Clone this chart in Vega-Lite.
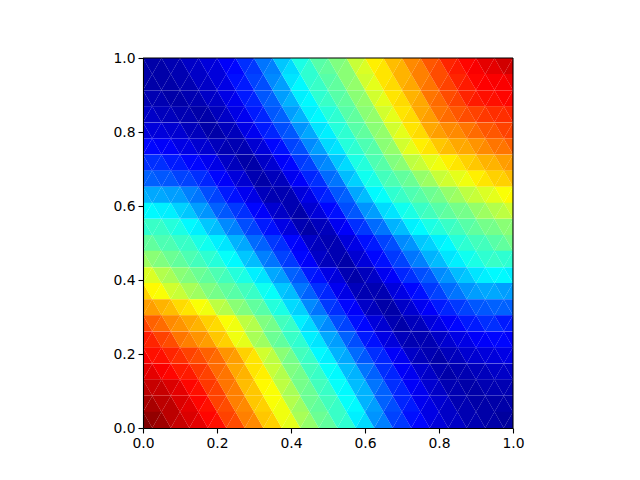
{"$schema":"https://vega.github.io/schema/vega-lite/v6.json","autosize":"none","width":370,"height":370,"padding":{"left":143,"top":58,"right":127,"bottom":52},"background":"white","config":{"view":{"stroke":null}},
"data":{"values":[
{"x":0,"y":0.978,"u":0.04,"d":0.04},{"x":0.05,"y":0.978,"u":0.04,"d":0.05},{"x":0.1,"y":0.978,"u":0.05,"d":0.07},{"x":0.15,"y":0.978,"u":0.07,"d":0.09},{"x":0.2,"y":0.978,"u":0.09,"d":0.12},{"x":0.25,"y":0.978,"u":0.13,"d":0.17},{"x":0.3,"y":0.978,"u":0.18,"d":0.24},{"x":0.35,"y":0.978,"u":0.25,"d":0.32},{"x":0.4,"y":0.978,"u":0.34,"d":0.4},{"x":0.45,"y":0.978,"u":0.42,"d":0.46},{"x":0.5,"y":0.978,"u":0.47,"d":0.5},{"x":0.55,"y":0.978,"u":0.51,"d":0.57},{"x":0.6,"y":0.978,"u":0.59,"d":0.64},{"x":0.65,"y":0.978,"u":0.65,"d":0.69},{"x":0.7,"y":0.978,"u":0.7,"d":0.74},{"x":0.75,"y":0.978,"u":0.75,"d":0.79},{"x":0.8,"y":0.978,"u":0.8,"d":0.84},{"x":0.85,"y":0.978,"u":0.85,"d":0.87},{"x":0.9,"y":0.978,"u":0.88,"d":0.9},{"x":0.95,"y":0.978,"u":0.9,"d":0.92},{"x":1,"y":0.978,"u":0.92,"d":0.92},
{"x":-0.025,"y":0.935,"u":0.04,"d":0.04},{"x":0.025,"y":0.935,"u":0.04,"d":0.04},{"x":0.075,"y":0.935,"u":0.04,"d":0.05},{"x":0.125,"y":0.935,"u":0.05,"d":0.07},{"x":0.175,"y":0.935,"u":0.07,"d":0.09},{"x":0.225,"y":0.935,"u":0.1,"d":0.14},{"x":0.275,"y":0.935,"u":0.15,"d":0.19},{"x":0.325,"y":0.935,"u":0.2,"d":0.26},{"x":0.375,"y":0.935,"u":0.28,"d":0.35},{"x":0.425,"y":0.935,"u":0.37,"d":0.42},{"x":0.475,"y":0.935,"u":0.43,"d":0.46},{"x":0.525,"y":0.935,"u":0.47,"d":0.51},{"x":0.575,"y":0.935,"u":0.52,"d":0.58},{"x":0.625,"y":0.935,"u":0.6,"d":0.65},{"x":0.675,"y":0.935,"u":0.66,"d":0.7},{"x":0.725,"y":0.935,"u":0.71,"d":0.75},{"x":0.775,"y":0.935,"u":0.76,"d":0.8},{"x":0.825,"y":0.935,"u":0.81,"d":0.84},{"x":0.875,"y":0.935,"u":0.85,"d":0.87},{"x":0.925,"y":0.935,"u":0.875,"d":0.88},{"x":0.975,"y":0.935,"u":0.88,"d":0.89},
{"x":0,"y":0.891,"u":0.05,"d":0.05},{"x":0.05,"y":0.891,"u":0.05,"d":0.04},{"x":0.1,"y":0.891,"u":0.04,"d":0.05},{"x":0.15,"y":0.891,"u":0.05,"d":0.07},{"x":0.2,"y":0.891,"u":0.07,"d":0.1},{"x":0.25,"y":0.891,"u":0.11,"d":0.15},{"x":0.3,"y":0.891,"u":0.16,"d":0.21},{"x":0.35,"y":0.891,"u":0.22,"d":0.28},{"x":0.4,"y":0.891,"u":0.3,"d":0.36},{"x":0.45,"y":0.891,"u":0.37,"d":0.42},{"x":0.5,"y":0.891,"u":0.43,"d":0.46},{"x":0.55,"y":0.891,"u":0.47,"d":0.51},{"x":0.6,"y":0.891,"u":0.52,"d":0.58},{"x":0.65,"y":0.891,"u":0.6,"d":0.65},{"x":0.7,"y":0.891,"u":0.66,"d":0.7},{"x":0.75,"y":0.891,"u":0.71,"d":0.76},{"x":0.8,"y":0.891,"u":0.77,"d":0.8},{"x":0.85,"y":0.891,"u":0.81,"d":0.84},{"x":0.9,"y":0.891,"u":0.85,"d":0.86},{"x":0.95,"y":0.891,"u":0.86,"d":0.87},{"x":1,"y":0.891,"u":0.87,"d":0.88},
{"x":-0.025,"y":0.848,"u":0.07,"d":0.07},{"x":0.025,"y":0.848,"u":0.07,"d":0.06},{"x":0.075,"y":0.848,"u":0.06,"d":0.05},{"x":0.125,"y":0.848,"u":0.05,"d":0.04},{"x":0.175,"y":0.848,"u":0.04,"d":0.06},{"x":0.225,"y":0.848,"u":0.07,"d":0.1},{"x":0.275,"y":0.848,"u":0.11,"d":0.15},{"x":0.325,"y":0.848,"u":0.16,"d":0.21},{"x":0.375,"y":0.848,"u":0.22,"d":0.28},{"x":0.425,"y":0.848,"u":0.3,"d":0.36},{"x":0.475,"y":0.848,"u":0.37,"d":0.41},{"x":0.525,"y":0.848,"u":0.42,"d":0.46},{"x":0.575,"y":0.848,"u":0.47,"d":0.51},{"x":0.625,"y":0.848,"u":0.52,"d":0.58},{"x":0.675,"y":0.848,"u":0.6,"d":0.65},{"x":0.725,"y":0.848,"u":0.66,"d":0.71},{"x":0.775,"y":0.848,"u":0.72,"d":0.76},{"x":0.825,"y":0.848,"u":0.77,"d":0.79},{"x":0.875,"y":0.848,"u":0.8,"d":0.81},{"x":0.925,"y":0.848,"u":0.82,"d":0.83},{"x":0.975,"y":0.848,"u":0.83,"d":0.84},
{"x":0,"y":0.804,"u":0.09,"d":0.09},{"x":0.05,"y":0.804,"u":0.09,"d":0.08},{"x":0.1,"y":0.804,"u":0.08,"d":0.06},{"x":0.15,"y":0.804,"u":0.06,"d":0.04},{"x":0.2,"y":0.804,"u":0.04,"d":0.06},{"x":0.25,"y":0.804,"u":0.06,"d":0.1},{"x":0.3,"y":0.804,"u":0.11,"d":0.15},{"x":0.35,"y":0.804,"u":0.16,"d":0.2},{"x":0.4,"y":0.804,"u":0.21,"d":0.27},{"x":0.45,"y":0.804,"u":0.29,"d":0.35},{"x":0.5,"y":0.804,"u":0.36,"d":0.41},{"x":0.55,"y":0.804,"u":0.42,"d":0.46},{"x":0.6,"y":0.804,"u":0.47,"d":0.51},{"x":0.65,"y":0.804,"u":0.52,"d":0.58},{"x":0.7,"y":0.804,"u":0.6,"d":0.65},{"x":0.75,"y":0.804,"u":0.66,"d":0.71},{"x":0.8,"y":0.804,"u":0.72,"d":0.74},{"x":0.85,"y":0.804,"u":0.74,"d":0.76},{"x":0.9,"y":0.804,"u":0.77,"d":0.79},{"x":0.95,"y":0.804,"u":0.79,"d":0.81},{"x":1,"y":0.804,"u":0.81,"d":0.82},
{"x":-0.025,"y":0.761,"u":0.13,"d":0.13},{"x":0.025,"y":0.761,"u":0.13,"d":0.12},{"x":0.075,"y":0.761,"u":0.12,"d":0.1},{"x":0.125,"y":0.761,"u":0.1,"d":0.08},{"x":0.175,"y":0.761,"u":0.08,"d":0.06},{"x":0.225,"y":0.761,"u":0.05,"d":0.05},{"x":0.275,"y":0.761,"u":0.05,"d":0.08},{"x":0.325,"y":0.761,"u":0.09,"d":0.13},{"x":0.375,"y":0.761,"u":0.14,"d":0.19},{"x":0.425,"y":0.761,"u":0.2,"d":0.26},{"x":0.475,"y":0.761,"u":0.28,"d":0.34},{"x":0.525,"y":0.761,"u":0.35,"d":0.41},{"x":0.575,"y":0.761,"u":0.42,"d":0.45},{"x":0.625,"y":0.761,"u":0.46,"d":0.51},{"x":0.675,"y":0.761,"u":0.52,"d":0.58},{"x":0.725,"y":0.761,"u":0.6,"d":0.64},{"x":0.775,"y":0.761,"u":0.65,"d":0.68},{"x":0.825,"y":0.761,"u":0.69,"d":0.71},{"x":0.875,"y":0.761,"u":0.71,"d":0.73},{"x":0.925,"y":0.761,"u":0.74,"d":0.76},{"x":0.975,"y":0.761,"u":0.76,"d":0.78},
{"x":0,"y":0.717,"u":0.17,"d":0.17},{"x":0.05,"y":0.717,"u":0.17,"d":0.15},{"x":0.1,"y":0.717,"u":0.15,"d":0.13},{"x":0.15,"y":0.717,"u":0.13,"d":0.11},{"x":0.2,"y":0.717,"u":0.1,"d":0.07},{"x":0.25,"y":0.717,"u":0.06,"d":0.04},{"x":0.3,"y":0.717,"u":0.04,"d":0.07},{"x":0.35,"y":0.717,"u":0.08,"d":0.12},{"x":0.4,"y":0.717,"u":0.13,"d":0.18},{"x":0.45,"y":0.717,"u":0.19,"d":0.25},{"x":0.5,"y":0.717,"u":0.26,"d":0.32},{"x":0.55,"y":0.717,"u":0.34,"d":0.4},{"x":0.6,"y":0.717,"u":0.41,"d":0.45},{"x":0.65,"y":0.717,"u":0.46,"d":0.5},{"x":0.7,"y":0.717,"u":0.51,"d":0.56},{"x":0.75,"y":0.717,"u":0.57,"d":0.6},{"x":0.8,"y":0.717,"u":0.61,"d":0.64},{"x":0.85,"y":0.717,"u":0.65,"d":0.67},{"x":0.9,"y":0.717,"u":0.68,"d":0.7},{"x":0.95,"y":0.717,"u":0.7,"d":0.72},{"x":1,"y":0.717,"u":0.725,"d":0.74},
{"x":-0.025,"y":0.674,"u":0.22,"d":0.22},{"x":0.025,"y":0.674,"u":0.22,"d":0.21},{"x":0.075,"y":0.674,"u":0.21,"d":0.19},{"x":0.125,"y":0.674,"u":0.19,"d":0.17},{"x":0.175,"y":0.674,"u":0.16,"d":0.13},{"x":0.225,"y":0.674,"u":0.12,"d":0.09},{"x":0.275,"y":0.674,"u":0.08,"d":0.05},{"x":0.325,"y":0.674,"u":0.04,"d":0.06},{"x":0.375,"y":0.674,"u":0.06,"d":0.11},{"x":0.425,"y":0.674,"u":0.12,"d":0.16},{"x":0.475,"y":0.674,"u":0.17,"d":0.23},{"x":0.525,"y":0.674,"u":0.24,"d":0.31},{"x":0.575,"y":0.674,"u":0.33,"d":0.39},{"x":0.625,"y":0.674,"u":0.4,"d":0.44},{"x":0.675,"y":0.674,"u":0.45,"d":0.47},{"x":0.725,"y":0.674,"u":0.48,"d":0.52},{"x":0.775,"y":0.674,"u":0.53,"d":0.57},{"x":0.825,"y":0.674,"u":0.58,"d":0.6},{"x":0.875,"y":0.674,"u":0.61,"d":0.64},{"x":0.925,"y":0.674,"u":0.65,"d":0.67},{"x":0.975,"y":0.674,"u":0.67,"d":0.69},
{"x":0,"y":0.63,"u":0.3,"d":0.29},{"x":0.05,"y":0.63,"u":0.29,"d":0.28},{"x":0.1,"y":0.63,"u":0.28,"d":0.25},{"x":0.15,"y":0.63,"u":0.24,"d":0.2},{"x":0.2,"y":0.63,"u":0.19,"d":0.15},{"x":0.25,"y":0.63,"u":0.14,"d":0.11},{"x":0.3,"y":0.63,"u":0.1,"d":0.06},{"x":0.35,"y":0.63,"u":0.05,"d":0.05},{"x":0.4,"y":0.63,"u":0.05,"d":0.09},{"x":0.45,"y":0.63,"u":0.1,"d":0.15},{"x":0.5,"y":0.63,"u":0.16,"d":0.21},{"x":0.55,"y":0.63,"u":0.22,"d":0.29},{"x":0.6,"y":0.63,"u":0.31,"d":0.37},{"x":0.65,"y":0.63,"u":0.38,"d":0.42},{"x":0.7,"y":0.63,"u":0.43,"d":0.45},{"x":0.75,"y":0.63,"u":0.46,"d":0.48},{"x":0.8,"y":0.63,"u":0.49,"d":0.52},{"x":0.85,"y":0.63,"u":0.53,"d":0.56},{"x":0.9,"y":0.63,"u":0.57,"d":0.59},{"x":0.95,"y":0.63,"u":0.6,"d":0.62},{"x":1,"y":0.63,"u":0.63,"d":0.64},
{"x":-0.025,"y":0.587,"u":0.37,"d":0.37},{"x":0.025,"y":0.587,"u":0.37,"d":0.36},{"x":0.075,"y":0.587,"u":0.36,"d":0.33},{"x":0.125,"y":0.587,"u":0.32,"d":0.28},{"x":0.175,"y":0.587,"u":0.27,"d":0.22},{"x":0.225,"y":0.587,"u":0.21,"d":0.18},{"x":0.275,"y":0.587,"u":0.17,"d":0.13},{"x":0.325,"y":0.587,"u":0.12,"d":0.08},{"x":0.375,"y":0.587,"u":0.07,"d":0.05},{"x":0.425,"y":0.587,"u":0.04,"d":0.08},{"x":0.475,"y":0.587,"u":0.09,"d":0.13},{"x":0.525,"y":0.587,"u":0.14,"d":0.2},{"x":0.575,"y":0.587,"u":0.21,"d":0.27},{"x":0.625,"y":0.587,"u":0.28,"d":0.34},{"x":0.675,"y":0.587,"u":0.35,"d":0.39},{"x":0.725,"y":0.587,"u":0.4,"d":0.43},{"x":0.775,"y":0.587,"u":0.44,"d":0.46},{"x":0.825,"y":0.587,"u":0.47,"d":0.49},{"x":0.875,"y":0.587,"u":0.49,"d":0.52},{"x":0.925,"y":0.587,"u":0.53,"d":0.55},{"x":0.975,"y":0.587,"u":0.56,"d":0.58},
{"x":0,"y":0.543,"u":0.42,"d":0.43},{"x":0.05,"y":0.543,"u":0.43,"d":0.41},{"x":0.1,"y":0.543,"u":0.4,"d":0.37},{"x":0.15,"y":0.543,"u":0.36,"d":0.32},{"x":0.2,"y":0.543,"u":0.31,"d":0.26},{"x":0.25,"y":0.543,"u":0.25,"d":0.2},{"x":0.3,"y":0.543,"u":0.19,"d":0.15},{"x":0.35,"y":0.543,"u":0.14,"d":0.1},{"x":0.4,"y":0.543,"u":0.09,"d":0.05},{"x":0.45,"y":0.543,"u":0.04,"d":0.06},{"x":0.5,"y":0.543,"u":0.06,"d":0.11},{"x":0.55,"y":0.543,"u":0.12,"d":0.17},{"x":0.6,"y":0.543,"u":0.18,"d":0.23},{"x":0.65,"y":0.543,"u":0.24,"d":0.3},{"x":0.7,"y":0.543,"u":0.31,"d":0.36},{"x":0.75,"y":0.543,"u":0.37,"d":0.4},{"x":0.8,"y":0.543,"u":0.41,"d":0.43},{"x":0.85,"y":0.543,"u":0.44,"d":0.46},{"x":0.9,"y":0.543,"u":0.47,"d":0.49},{"x":0.95,"y":0.543,"u":0.49,"d":0.51},{"x":1,"y":0.543,"u":0.51,"d":0.52},
{"x":-0.025,"y":0.5,"u":0.49,"d":0.47},{"x":0.025,"y":0.5,"u":0.47,"d":0.45},{"x":0.075,"y":0.5,"u":0.45,"d":0.43},{"x":0.125,"y":0.5,"u":0.43,"d":0.4},{"x":0.175,"y":0.5,"u":0.39,"d":0.36},{"x":0.225,"y":0.5,"u":0.35,"d":0.3},{"x":0.275,"y":0.5,"u":0.29,"d":0.23},{"x":0.325,"y":0.5,"u":0.22,"d":0.18},{"x":0.375,"y":0.5,"u":0.17,"d":0.13},{"x":0.425,"y":0.5,"u":0.12,"d":0.07},{"x":0.475,"y":0.5,"u":0.06,"d":0.05},{"x":0.525,"y":0.5,"u":0.05,"d":0.09},{"x":0.575,"y":0.5,"u":0.1,"d":0.14},{"x":0.625,"y":0.5,"u":0.15,"d":0.19},{"x":0.675,"y":0.5,"u":0.2,"d":0.26},{"x":0.725,"y":0.5,"u":0.27,"d":0.32},{"x":0.775,"y":0.5,"u":0.33,"d":0.36},{"x":0.825,"y":0.5,"u":0.37,"d":0.41},{"x":0.875,"y":0.5,"u":0.42,"d":0.44},{"x":0.925,"y":0.5,"u":0.44,"d":0.46},{"x":0.975,"y":0.5,"u":0.47,"d":0.49},
{"x":0,"y":0.457,"u":0.53,"d":0.51},{"x":0.05,"y":0.457,"u":0.5,"d":0.48},{"x":0.1,"y":0.457,"u":0.47,"d":0.45},{"x":0.15,"y":0.457,"u":0.44,"d":0.42},{"x":0.2,"y":0.457,"u":0.41,"d":0.38},{"x":0.25,"y":0.457,"u":0.37,"d":0.32},{"x":0.3,"y":0.457,"u":0.31,"d":0.25},{"x":0.35,"y":0.457,"u":0.24,"d":0.19},{"x":0.4,"y":0.457,"u":0.18,"d":0.13},{"x":0.45,"y":0.457,"u":0.12,"d":0.07},{"x":0.5,"y":0.457,"u":0.06,"d":0.05},{"x":0.55,"y":0.457,"u":0.04,"d":0.08},{"x":0.6,"y":0.457,"u":0.09,"d":0.13},{"x":0.65,"y":0.457,"u":0.14,"d":0.18},{"x":0.7,"y":0.457,"u":0.19,"d":0.24},{"x":0.75,"y":0.457,"u":0.25,"d":0.3},{"x":0.8,"y":0.457,"u":0.31,"d":0.35},{"x":0.85,"y":0.457,"u":0.36,"d":0.39},{"x":0.9,"y":0.457,"u":0.4,"d":0.42},{"x":0.95,"y":0.457,"u":0.43,"d":0.42},{"x":1,"y":0.457,"u":0.42,"d":0.42},
{"x":-0.025,"y":0.413,"u":0.6,"d":0.59},{"x":0.025,"y":0.413,"u":0.59,"d":0.55},{"x":0.075,"y":0.413,"u":0.54,"d":0.51},{"x":0.125,"y":0.413,"u":0.5,"d":0.48},{"x":0.175,"y":0.413,"u":0.47,"d":0.45},{"x":0.225,"y":0.413,"u":0.44,"d":0.41},{"x":0.275,"y":0.413,"u":0.4,"d":0.36},{"x":0.325,"y":0.413,"u":0.35,"d":0.29},{"x":0.375,"y":0.413,"u":0.28,"d":0.22},{"x":0.425,"y":0.413,"u":0.21,"d":0.15},{"x":0.475,"y":0.413,"u":0.14,"d":0.1},{"x":0.525,"y":0.413,"u":0.09,"d":0.05},{"x":0.575,"y":0.413,"u":0.04,"d":0.06},{"x":0.625,"y":0.413,"u":0.07,"d":0.11},{"x":0.675,"y":0.413,"u":0.12,"d":0.16},{"x":0.725,"y":0.413,"u":0.17,"d":0.2},{"x":0.775,"y":0.413,"u":0.21,"d":0.26},{"x":0.825,"y":0.413,"u":0.27,"d":0.31},{"x":0.875,"y":0.413,"u":0.32,"d":0.35},{"x":0.925,"y":0.413,"u":0.36,"d":0.37},{"x":0.975,"y":0.413,"u":0.37,"d":0.36},
{"x":0,"y":0.37,"u":0.67,"d":0.63},{"x":0.05,"y":0.37,"u":0.62,"d":0.58},{"x":0.1,"y":0.37,"u":0.57,"d":0.54},{"x":0.15,"y":0.37,"u":0.53,"d":0.5},{"x":0.2,"y":0.37,"u":0.49,"d":0.47},{"x":0.25,"y":0.37,"u":0.46,"d":0.44},{"x":0.3,"y":0.37,"u":0.43,"d":0.39},{"x":0.35,"y":0.37,"u":0.38,"d":0.32},{"x":0.4,"y":0.37,"u":0.31,"d":0.24},{"x":0.45,"y":0.37,"u":0.22,"d":0.17},{"x":0.5,"y":0.37,"u":0.16,"d":0.11},{"x":0.55,"y":0.37,"u":0.1,"d":0.06},{"x":0.6,"y":0.37,"u":0.05,"d":0.05},{"x":0.65,"y":0.37,"u":0.05,"d":0.09},{"x":0.7,"y":0.37,"u":0.1,"d":0.13},{"x":0.75,"y":0.37,"u":0.14,"d":0.18},{"x":0.8,"y":0.37,"u":0.19,"d":0.23},{"x":0.85,"y":0.37,"u":0.24,"d":0.27},{"x":0.9,"y":0.37,"u":0.28,"d":0.29},{"x":0.95,"y":0.37,"u":0.29,"d":0.28},{"x":1,"y":0.37,"u":0.28,"d":0.27},
{"x":-0.025,"y":0.326,"u":0.74,"d":0.72},{"x":0.025,"y":0.326,"u":0.72,"d":0.7},{"x":0.075,"y":0.326,"u":0.69,"d":0.66},{"x":0.125,"y":0.326,"u":0.65,"d":0.62},{"x":0.175,"y":0.326,"u":0.61,"d":0.56},{"x":0.225,"y":0.326,"u":0.55,"d":0.51},{"x":0.275,"y":0.326,"u":0.5,"d":0.47},{"x":0.325,"y":0.326,"u":0.46,"d":0.41},{"x":0.375,"y":0.326,"u":0.4,"d":0.34},{"x":0.425,"y":0.326,"u":0.33,"d":0.26},{"x":0.475,"y":0.326,"u":0.24,"d":0.18},{"x":0.525,"y":0.326,"u":0.17,"d":0.13},{"x":0.575,"y":0.326,"u":0.12,"d":0.07},{"x":0.625,"y":0.326,"u":0.06,"d":0.04},{"x":0.675,"y":0.326,"u":0.04,"d":0.07},{"x":0.725,"y":0.326,"u":0.08,"d":0.11},{"x":0.775,"y":0.326,"u":0.12,"d":0.15},{"x":0.825,"y":0.326,"u":0.16,"d":0.18},{"x":0.875,"y":0.326,"u":0.19,"d":0.21},{"x":0.925,"y":0.326,"u":0.21,"d":0.22},{"x":0.975,"y":0.326,"u":0.22,"d":0.22},
{"x":0,"y":0.283,"u":0.81,"d":0.78},{"x":0.05,"y":0.283,"u":0.77,"d":0.74},{"x":0.1,"y":0.283,"u":0.73,"d":0.71},{"x":0.15,"y":0.283,"u":0.7,"d":0.67},{"x":0.2,"y":0.283,"u":0.66,"d":0.62},{"x":0.25,"y":0.283,"u":0.61,"d":0.56},{"x":0.3,"y":0.283,"u":0.55,"d":0.5},{"x":0.35,"y":0.283,"u":0.49,"d":0.44},{"x":0.4,"y":0.283,"u":0.43,"d":0.36},{"x":0.45,"y":0.283,"u":0.34,"d":0.28},{"x":0.5,"y":0.283,"u":0.26,"d":0.2},{"x":0.55,"y":0.283,"u":0.19,"d":0.14},{"x":0.6,"y":0.283,"u":0.13,"d":0.09},{"x":0.65,"y":0.283,"u":0.08,"d":0.05},{"x":0.7,"y":0.283,"u":0.04,"d":0.06},{"x":0.75,"y":0.283,"u":0.06,"d":0.09},{"x":0.8,"y":0.283,"u":0.1,"d":0.12},{"x":0.85,"y":0.283,"u":0.13,"d":0.15},{"x":0.9,"y":0.283,"u":0.15,"d":0.17},{"x":0.95,"y":0.283,"u":0.17,"d":0.15},{"x":1,"y":0.283,"u":0.15,"d":0.14},
{"x":-0.025,"y":0.239,"u":0.87,"d":0.85},{"x":0.025,"y":0.239,"u":0.84,"d":0.81},{"x":0.075,"y":0.239,"u":0.8,"d":0.76},{"x":0.125,"y":0.239,"u":0.75,"d":0.73},{"x":0.175,"y":0.239,"u":0.72,"d":0.68},{"x":0.225,"y":0.239,"u":0.67,"d":0.61},{"x":0.275,"y":0.239,"u":0.6,"d":0.54},{"x":0.325,"y":0.239,"u":0.53,"d":0.48},{"x":0.375,"y":0.239,"u":0.47,"d":0.43},{"x":0.425,"y":0.239,"u":0.42,"d":0.36},{"x":0.475,"y":0.239,"u":0.35,"d":0.29},{"x":0.525,"y":0.239,"u":0.28,"d":0.22},{"x":0.575,"y":0.239,"u":0.2,"d":0.15},{"x":0.625,"y":0.239,"u":0.14,"d":0.1},{"x":0.675,"y":0.239,"u":0.09,"d":0.06},{"x":0.725,"y":0.239,"u":0.05,"d":0.05},{"x":0.775,"y":0.239,"u":0.05,"d":0.07},{"x":0.825,"y":0.239,"u":0.08,"d":0.1},{"x":0.875,"y":0.239,"u":0.1,"d":0.12},{"x":0.925,"y":0.239,"u":0.12,"d":0.13},{"x":0.975,"y":0.239,"u":0.13,"d":0.12},
{"x":0,"y":0.196,"u":0.88,"d":0.86},{"x":0.05,"y":0.196,"u":0.86,"d":0.84},{"x":0.1,"y":0.196,"u":0.83,"d":0.81},{"x":0.15,"y":0.196,"u":0.8,"d":0.78},{"x":0.2,"y":0.196,"u":0.77,"d":0.73},{"x":0.25,"y":0.196,"u":0.72,"d":0.67},{"x":0.3,"y":0.196,"u":0.65,"d":0.58},{"x":0.35,"y":0.196,"u":0.56,"d":0.51},{"x":0.4,"y":0.196,"u":0.49,"d":0.44},{"x":0.45,"y":0.196,"u":0.43,"d":0.37},{"x":0.5,"y":0.196,"u":0.36,"d":0.3},{"x":0.55,"y":0.196,"u":0.29,"d":0.23},{"x":0.6,"y":0.196,"u":0.21,"d":0.17},{"x":0.65,"y":0.196,"u":0.16,"d":0.12},{"x":0.7,"y":0.196,"u":0.11,"d":0.07},{"x":0.75,"y":0.196,"u":0.06,"d":0.05},{"x":0.8,"y":0.196,"u":0.04,"d":0.06},{"x":0.85,"y":0.196,"u":0.06,"d":0.08},{"x":0.9,"y":0.196,"u":0.08,"d":0.09},{"x":0.95,"y":0.196,"u":0.09,"d":0.1},{"x":1,"y":0.196,"u":0.1,"d":0.1},
{"x":-0.025,"y":0.152,"u":0.91,"d":0.9},{"x":0.025,"y":0.152,"u":0.9,"d":0.88},{"x":0.075,"y":0.152,"u":0.87,"d":0.85},{"x":0.125,"y":0.152,"u":0.85,"d":0.82},{"x":0.175,"y":0.152,"u":0.81,"d":0.77},{"x":0.225,"y":0.152,"u":0.76,"d":0.71},{"x":0.275,"y":0.152,"u":0.7,"d":0.65},{"x":0.325,"y":0.152,"u":0.64,"d":0.57},{"x":0.375,"y":0.152,"u":0.55,"d":0.5},{"x":0.425,"y":0.152,"u":0.49,"d":0.44},{"x":0.475,"y":0.152,"u":0.43,"d":0.38},{"x":0.525,"y":0.152,"u":0.37,"d":0.31},{"x":0.575,"y":0.152,"u":0.3,"d":0.24},{"x":0.625,"y":0.152,"u":0.22,"d":0.17},{"x":0.675,"y":0.152,"u":0.16,"d":0.12},{"x":0.725,"y":0.152,"u":0.11,"d":0.08},{"x":0.775,"y":0.152,"u":0.07,"d":0.05},{"x":0.825,"y":0.152,"u":0.04,"d":0.05},{"x":0.875,"y":0.152,"u":0.05,"d":0.06},{"x":0.925,"y":0.152,"u":0.06,"d":0.07},{"x":0.975,"y":0.152,"u":0.07,"d":0.07},
{"x":0,"y":0.109,"u":0.94,"d":0.93},{"x":0.05,"y":0.109,"u":0.93,"d":0.91},{"x":0.1,"y":0.109,"u":0.9,"d":0.87},{"x":0.15,"y":0.109,"u":0.86,"d":0.82},{"x":0.2,"y":0.109,"u":0.81,"d":0.76},{"x":0.25,"y":0.109,"u":0.75,"d":0.69},{"x":0.3,"y":0.109,"u":0.68,"d":0.63},{"x":0.35,"y":0.109,"u":0.62,"d":0.56},{"x":0.4,"y":0.109,"u":0.54,"d":0.49},{"x":0.45,"y":0.109,"u":0.48,"d":0.44},{"x":0.5,"y":0.109,"u":0.43,"d":0.38},{"x":0.55,"y":0.109,"u":0.37,"d":0.31},{"x":0.6,"y":0.109,"u":0.3,"d":0.24},{"x":0.65,"y":0.109,"u":0.22,"d":0.17},{"x":0.7,"y":0.109,"u":0.16,"d":0.12},{"x":0.75,"y":0.109,"u":0.11,"d":0.08},{"x":0.8,"y":0.109,"u":0.07,"d":0.05},{"x":0.85,"y":0.109,"u":0.05,"d":0.04},{"x":0.9,"y":0.109,"u":0.04,"d":0.05},{"x":0.95,"y":0.109,"u":0.05,"d":0.05},{"x":1,"y":0.109,"u":0.05,"d":0.05},
{"x":-0.025,"y":0.065,"u":0.97,"d":0.96},{"x":0.025,"y":0.065,"u":0.96,"d":0.94},{"x":0.075,"y":0.065,"u":0.94,"d":0.91},{"x":0.125,"y":0.065,"u":0.9,"d":0.87},{"x":0.175,"y":0.065,"u":0.86,"d":0.81},{"x":0.225,"y":0.065,"u":0.8,"d":0.75},{"x":0.275,"y":0.065,"u":0.74,"d":0.68},{"x":0.325,"y":0.065,"u":0.67,"d":0.62},{"x":0.375,"y":0.065,"u":0.61,"d":0.55},{"x":0.425,"y":0.065,"u":0.53,"d":0.48},{"x":0.475,"y":0.065,"u":0.47,"d":0.44},{"x":0.525,"y":0.065,"u":0.43,"d":0.38},{"x":0.575,"y":0.065,"u":0.37,"d":0.3},{"x":0.625,"y":0.065,"u":0.28,"d":0.22},{"x":0.675,"y":0.065,"u":0.2,"d":0.16},{"x":0.725,"y":0.065,"u":0.15,"d":0.11},{"x":0.775,"y":0.065,"u":0.1,"d":0.08},{"x":0.825,"y":0.065,"u":0.07,"d":0.05},{"x":0.875,"y":0.065,"u":0.05,"d":0.04},{"x":0.925,"y":0.065,"u":0.04,"d":0.04},{"x":0.975,"y":0.065,"u":0.04,"d":0.04},
{"x":0,"y":0.022,"u":1,"d":0.98},{"x":0.05,"y":0.022,"u":0.97,"d":0.94},{"x":0.1,"y":0.022,"u":0.93,"d":0.91},{"x":0.15,"y":0.022,"u":0.9,"d":0.87},{"x":0.2,"y":0.022,"u":0.86,"d":0.81},{"x":0.25,"y":0.022,"u":0.8,"d":0.75},{"x":0.3,"y":0.022,"u":0.74,"d":0.68},{"x":0.35,"y":0.022,"u":0.67,"d":0.61},{"x":0.4,"y":0.022,"u":0.6,"d":0.54},{"x":0.45,"y":0.022,"u":0.52,"d":0.48},{"x":0.5,"y":0.022,"u":0.47,"d":0.43},{"x":0.55,"y":0.022,"u":0.42,"d":0.36},{"x":0.6,"y":0.022,"u":0.34,"d":0.27},{"x":0.65,"y":0.022,"u":0.25,"d":0.19},{"x":0.7,"y":0.022,"u":0.18,"d":0.14},{"x":0.75,"y":0.022,"u":0.13,"d":0.1},{"x":0.8,"y":0.022,"u":0.09,"d":0.07},{"x":0.85,"y":0.022,"u":0.07,"d":0.05},{"x":0.9,"y":0.022,"u":0.05,"d":0.04},{"x":0.95,"y":0.022,"u":0.04,"d":0.03},{"x":1,"y":0.022,"u":0.03,"d":0.03}
]},
"layer":[
{"mark":{"type":"point","shape":"triangle-up","filled":true,"size":346,"opacity":1,"clip":true},
"encoding":{"x":{"field":"x","type":"quantitative","scale":{"domain":[0,1],"nice":false,"zero":false},"axis":{"values":[0,0.2,0.4,0.6,0.8,1],"format":".1f","title":null,"grid":false,"domainColor":"#000","domainWidth":1.1,"tickColor":"#000","tickWidth":1.1,"tickSize":5,"labelColor":"#000","labelFont":"DejaVu Sans","labelFontSize":13.9,"labelPadding":3,"labelFlush":false,"zindex":1}},
"y":{"field":"y","type":"quantitative","scale":{"domain":[0,1],"nice":false,"zero":false},"axis":{"values":[0,0.2,0.4,0.6,0.8,1],"format":".1f","title":null,"grid":false,"domainColor":"#000","domainWidth":1.1,"tickColor":"#000","tickWidth":1.1,"tickSize":5,"labelColor":"#000","labelFont":"DejaVu Sans","labelFontSize":13.9,"labelPadding":3,"labelFlush":false,"zindex":1}},
"color":{"field":"u","type":"quantitative","legend":null,"scale":{"domain":[0,0.125,0.375,0.625,0.875,1],"range":["#00007f","#0000ff","#00ffff","#ffff00","#ff0000","#7f0000"],"interpolate":"rgb","clamp":true}}}},
{"mark":{"type":"point","shape":"triangle-down","filled":true,"size":346,"opacity":1,"clip":true,"xOffset":9.25},
"encoding":{"x":{"field":"x","type":"quantitative"},"y":{"field":"y","type":"quantitative"},
"color":{"field":"d","type":"quantitative","legend":null}}},
{"data":{"values":[{"x":1}]},"mark":{"type":"rule","color":"#000","strokeWidth":1.1},"encoding":{"x":{"field":"x","type":"quantitative"}}},
{"data":{"values":[{"y":1}]},"mark":{"type":"rule","color":"#000","strokeWidth":1.1},"encoding":{"y":{"field":"y","type":"quantitative"}}}
]}
